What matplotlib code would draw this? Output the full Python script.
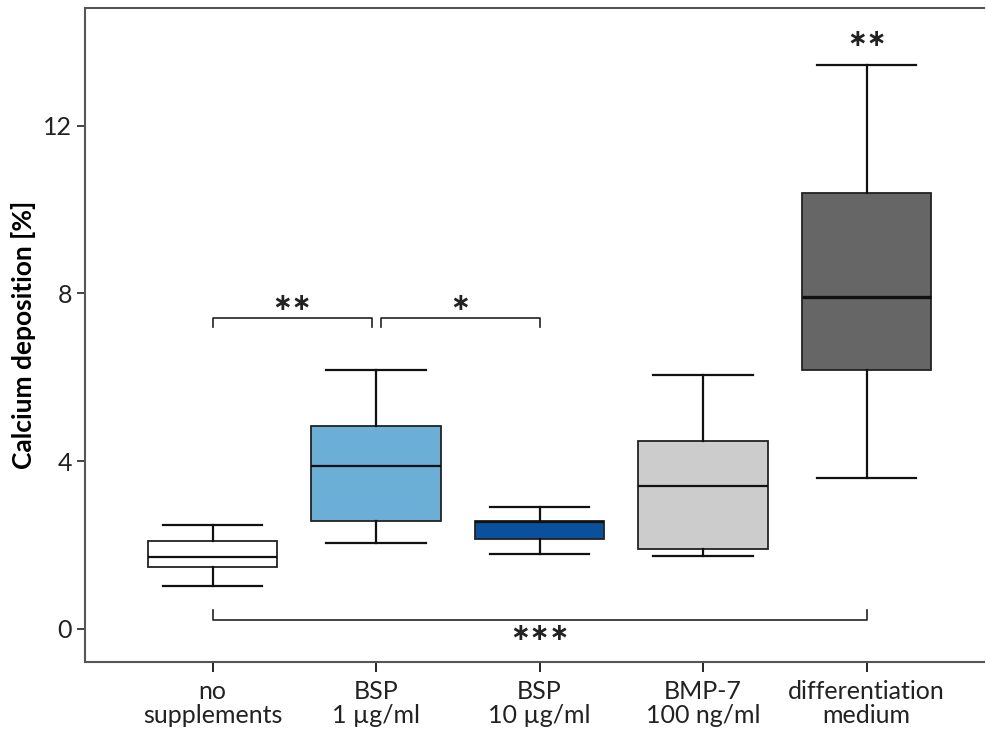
import matplotlib
matplotlib.use("Agg")
import matplotlib.pyplot as plt

plt.rcParams['font.family'] = ['Lato', 'DejaVu Sans']

labels = ['no\nsupplements', 'BSP\n1 µg/ml', 'BSP\n10 µg/ml', 'BMP-7\n100 ng/ml', 'differentiation\nmedium']
whislo = [1.03, 2.05, 1.79, 1.74, 3.60]
q1 = [1.48, 2.58, 2.15, 1.91, 6.16]
med = [1.72, 3.89, 2.55, 3.41, 7.92]
q3 = [2.10, 4.84, 2.58, 4.49, 10.38]
whishi = [2.48, 6.16, 2.91, 6.06, 13.44]
colors = ['#ffffff', '#6baed6', '#0b509c', '#cccccc', '#666666']

fig = plt.figure(figsize=(9.86, 7.37), dpi=100)
ax = fig.add_axes([0.0862, 0.1018, 0.912, 0.8872])

stats = []
for i in range(len(labels)):
    stats.append(dict(whislo=whislo[i], q1=q1[i], med=med[i], q3=q3[i],
                      whishi=whishi[i], fliers=[]))

bp = ax.bxp(stats, positions=range(1, 6), widths=0.79, patch_artist=True,
            showfliers=False,
            boxprops=dict(edgecolor='#222222', linewidth=1.3),
            medianprops=dict(color='#111111', linewidth=1.6),
            whiskerprops=dict(color='#111111', linewidth=1.6),
            capprops=dict(color='#111111', linewidth=1.6),
            capwidths=0.61)
for patch, c in zip(bp['boxes'], colors):
    patch.set_facecolor(c)
bp['medians'][4].set_linewidth(2.4)

ax.set_xlim(0.22, 5.72)
ax.set_ylim(-0.79, 14.8)
ax.set_yticks([0, 4, 8, 12])
ax.set_xticks(range(1, 6))
ax.set_xticklabels(labels, fontsize=18, color='#222222', linespacing=1.05)
ax.tick_params(axis='y', labelsize=18, colors='#222222', length=6, width=1.2)
ax.tick_params(axis='x', length=7, width=1.2, pad=6)
ax.set_ylabel('Calcium deposition [%]', fontsize=19, fontweight='bold', labelpad=5)
for s in ['left', 'bottom', 'top']:
    ax.spines[s].set_color('#555555')
    ax.spines[s].set_linewidth(1.5)
ax.spines['right'].set_visible(False)

star_font = dict(family='DejaVu Sans', fontsize=17, color='#222222', fontweight='bold')


def bracket(x1, x2, y, h, text, ty):
    ax.plot([x1, x1, x2, x2], [y - h, y, y, y - h], color='#222222', lw=1.2)
    ax.text((x1 + x2) / 2, ty, text, ha='center', va='center', **star_font)


bracket(1.0, 1.975, 7.42, 0.22, '\u2217\u2217', 7.78)
bracket(2.03, 3.0, 7.42, 0.22, '\u2217', 7.78)
bracket(1.0, 5.0, 0.22, -0.22, '\u2217\u2217\u2217', -0.1)
ax.text(5.0, 14.06, '\u2217\u2217', ha='center', va='center', **star_font)

fig.savefig('out.png', dpi=100)
